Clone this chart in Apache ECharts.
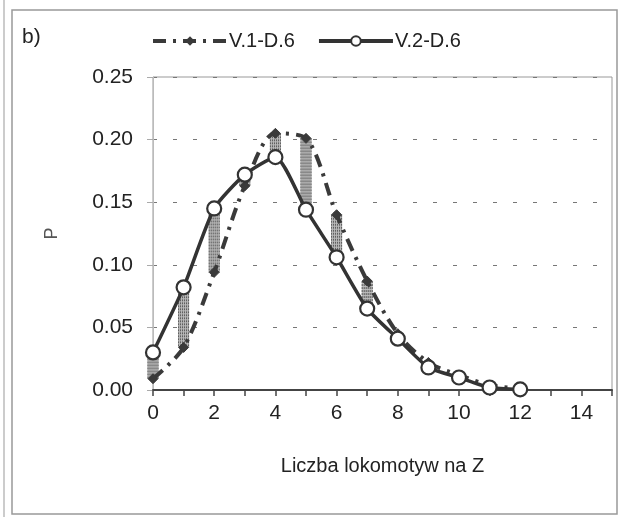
<!DOCTYPE html>
<html><head><meta charset="utf-8">
<script src="https://cdn.jsdelivr.net/npm/echarts@6/dist/echarts.min.js"></script>
<style>html,body{margin:0;padding:0;background:#fff}#c{width:621px;height:517px}</style>
</head><body><div id="c"></div>
<script>
var categories = [0,1,2,3,4,5,6,7,8,9,10,11,12];
var v1 = [0.009,0.034,0.094,0.163,0.205,0.201,0.140,0.087,0.045,0.022,0.012,0.004,0.001];
var v2 = [0.030,0.082,0.145,0.172,0.186,0.144,0.106,0.065,0.041,0.018,0.010,0.002,0.0005];
var hatchIdx = [0,1,2,3,4,5,6,7];
var xTicks = [0,2,4,6,8,10,12,14];
var yTicks = [0,0.05,0.10,0.15,0.20,0.25];

var hatchData = hatchIdx.map(function(i){return [categories[i], Math.min(v1[i],v2[i]), Math.max(v1[i],v2[i])];});
var FF = '"Liberation Sans", Arial, sans-serif';
var chart = echarts.init(document.getElementById('c'));
chart.setOption({
  animation:false,
  backgroundColor:'#fff',
  textStyle:{fontFamily:FF},
  graphic:[
    {type:'rect',shape:{x:12,y:10,width:605,height:504},style:{fill:'none',stroke:'#999',lineWidth:1.5},silent:true},
    {type:'line',shape:{x1:4,y1:0,x2:4,y2:517},style:{stroke:'#bbb',lineWidth:1.5},silent:true},
    {type:'text',left:22,top:27,style:{text:'b)',fontSize:21,fill:'#222',fontFamily:FF}}
  ],
  legend:{
    top:26,left:146,itemWidth:74,itemHeight:12,itemGap:22,
    textStyle:{fontSize:20,color:'#222',fontFamily:FF,padding:[0,0,0,-3]},
    lineStyle:{width:4},
    data:['V.1-D.6','V.2-D.6']
  },
  grid:{left:153,right:9,top:77,bottom:127,show:true,borderColor:'#999',borderWidth:1},
  xAxis:{
    type:'value',min:0,max:15,interval:1,
    name:'Liczba lokomotyw na Z',nameLocation:'middle',nameGap:66,
    nameTextStyle:{fontSize:20,color:'#222',fontFamily:FF},
    axisLine:{lineStyle:{color:'#444',width:2}},
    axisTick:{show:true,length:6,lineStyle:{color:'#444',width:1.5}},
    axisLabel:{fontSize:21,color:'#222',margin:13,fontFamily:FF,
      formatter:function(v){return xTicks.indexOf(v)>=0?String(v):'';}},
    splitLine:{show:false}
  },
  yAxis:{
    type:'value',min:0,max:0.25,interval:0.05,
    name:'P',nameLocation:'middle',nameGap:92,
    nameTextStyle:{fontSize:18,color:'#555',fontFamily:FF},
    axisLine:{show:true,lineStyle:{color:'#bbb',width:1}},
    axisTick:{show:true,length:6,lineStyle:{color:'#aaa'}},
    axisLabel:{fontSize:21,color:'#222',margin:20,fontFamily:FF,
      formatter:function(v){return v.toFixed(2);}},
    splitLine:{show:true,lineStyle:{color:'#777',type:[4,16],width:1}}
  },
  series:[
    {
      type:'custom',name:'diff',z:1,silent:true,
      data:hatchData,
      renderItem:function(params,api){
        var top=api.coord([api.value(0),api.value(2)]);
        var bot=api.coord([api.value(0),api.value(1)]);
        var w=11, x0=top[0]-w/2;
        var ch=[{type:'rect',shape:{x:x0,y:top[1],width:w,height:bot[1]-top[1]},style:{fill:'#bdbdbd'}}];
        for(var k=0.5;k<=w;k+=2){
          ch.push({type:'line',shape:{x1:x0+k,y1:top[1],x2:x0+k,y2:bot[1]},style:{stroke:'#555',lineWidth:1,lineDash:[2,1]}});
        }
        return {type:'group',children:ch};
      }
    },
    {
      name:'V.1-D.6',type:'line',z:3,smooth:0.3,
      data:categories.map(function(c,i){return [c,v1[i]];}),
      symbol:'diamond',symbolSize:10,showSymbol:true,
      itemStyle:{color:'#3a3a3a',borderColor:'#3a3a3a'},
      lineStyle:{color:'#3a3a3a',width:4,type:[13,7,3,7]}
    },
    {
      name:'V.2-D.6',type:'line',z:4,smooth:0.2,
      data:categories.map(function(c,i){return [c,v2[i]];}),
      symbol:'circle',symbolSize:14,showSymbol:true,
      itemStyle:{color:'#fff',borderColor:'#333',borderWidth:2.2},
      lineStyle:{color:'#333',width:3.5}
    }
  ]
});
</script></body></html>
